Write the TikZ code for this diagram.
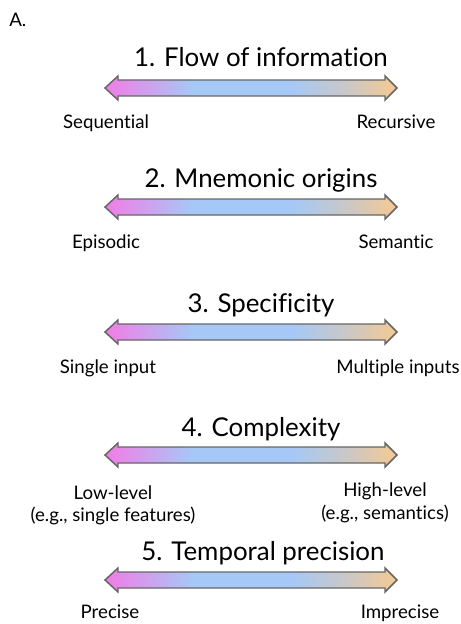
\documentclass[tikz,border=0pt]{standalone}
\usepackage{fontspec}
\setmainfont[Ligatures={NoCommon}]{Lato}
\definecolor{pk}{HTML}{F27CE6}
\definecolor{bl}{HTML}{A6C8F6}
\definecolor{gr}{HTML}{C8C8C8}
\definecolor{orc}{HTML}{F6C990}
\definecolor{edge}{HTML}{666666}
\pgfdeclarehorizontalshading{arrowgrad}{100bp}{color(0bp)=(pk); color(25bp)=(pk); color(40bp)=(bl); color(57bp)=(bl); color(66bp)=(gr); color(75bp)=(orc); color(100bp)=(orc)}
\begin{document}
\begin{tikzpicture}[x=0.75pt,y=-0.75pt,
  title/.style={font=\fontsize{19.4}{24}\selectfont, inner sep=0pt, anchor=base},
  lbl/.style={font=\fontsize{14}{17}\selectfont, inner sep=0pt, anchor=base, align=center},
  grad/.style={shading=arrowgrad, draw=edge, line width=1.1pt, line join=miter}]
\useasboundingbox (0,0) rectangle (460,624);
\node[lbl, anchor=base west] (A) at (9,27) {A.};
\def\darrow#1{%
  \path[grad] (105,#1) -- (118,#1-12) -- (118,#1-8) -- (385,#1-8) -- (385,#1-12) -- (397,#1)
    -- (385,#1+12) -- (385,#1+8) -- (118,#1+8) -- (118,#1+12) -- cycle;}
% 1
\node[title] (t1) at (261,67) {1. Flow of information};
\darrow{88}
\node[lbl] (l1) at (106,129) {Sequential};
\node[lbl] (r1) at (396,129) {Recursive};
% 2
\node[title] (t2) at (261,187) {2. Mnemonic origins};
\darrow{207}
\node[lbl] (l2) at (106,248) {Episodic};
\node[lbl] (r2) at (396,248) {Semantic};
% 3
\node[title] (t3) at (261,312) {3. Specificity};
\darrow{332}
\node[lbl] (l3) at (108,373) {Single input};
\node[lbl] (r3) at (398,373) {Multiple inputs};
% 4
\node[title] (t4) at (261,436) {4. Complexity};
\darrow{455}
\node[lbl] (l4) at (113,499) {Low-level};
\node[lbl] (l4b) at (113,521) {(e.g., single features)};
\node[lbl] (r4) at (385,496) {High-level};
\node[lbl] (r4b) at (385,519) {(e.g., semantics)};
% 5
\node[title] (t5) at (263,560) {5. Temporal precision};
\darrow{580}
\node[lbl] (l5) at (110,618) {Precise};
\node[lbl] (r5) at (400,618) {Imprecise};
\end{tikzpicture}
\end{document}
